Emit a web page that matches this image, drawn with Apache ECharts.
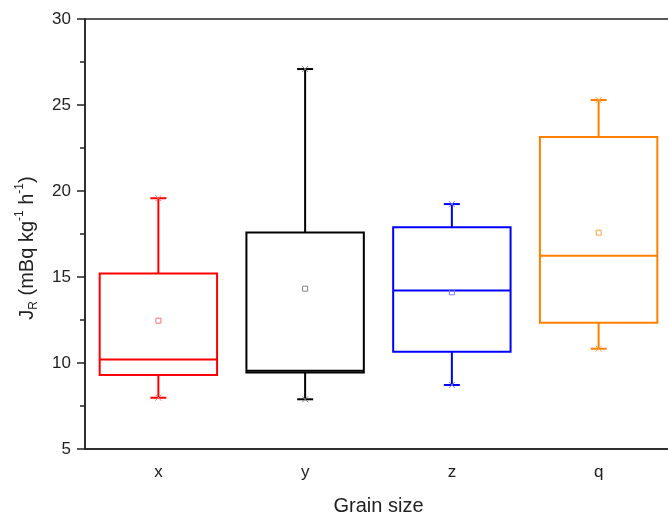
<!DOCTYPE html>
<html>
<head>
<meta charset="utf-8">
<script src="https://cdn.jsdelivr.net/npm/echarts@6/dist/echarts.min.js"></script>
<style>
  html, body { margin: 0; padding: 0; background: #fff; }
  #chart { width: 668px; height: 513px; }
</style>
</head>
<body>
<div id="chart"></div>
<script>
// Grain-size groups and their box statistics
const categories = ['x', 'y', 'z', 'q'];
const whiskerLow = [7.98, 7.89, 8.72, 10.83];
const q1 = [9.30, 9.45, 10.66, 12.34];
const median = [10.21, 9.55, 14.22, 16.24];
const q3 = [15.21, 17.58, 17.89, 23.14];
const whiskerHigh = [19.58, 27.09, 19.24, 25.29];
const mean = [12.46, 14.32, 14.11, 17.58];
const yTicks = [5, 10, 15, 20, 25, 30];

const boxColors = ['#ff0000', '#000000', '#0000ff', '#ff8000'];
const meanColors = ['#ff7070', '#808080', '#7a7aff', '#ffa040'];

const rows = categories.map((c, i) => [i, whiskerLow[i], q1[i], median[i], q3[i], whiskerHigh[i], mean[i]]);

function renderBox(params, api) {
  const i = api.value(0);
  const color = boxColors[i];
  const light = meanColors[i];
  const band = api.size([1, 0])[0];
  const half = band * 0.4;
  const cap = 8;
  const pLow = api.coord([i, api.value(1)]);
  const pQ1 = api.coord([i, api.value(2)]);
  const pMed = api.coord([i, api.value(3)]);
  const pQ3 = api.coord([i, api.value(4)]);
  const pHigh = api.coord([i, api.value(5)]);
  const pMean = api.coord([i, api.value(6)]);
  const cx = pQ1[0];
  const stroke = { stroke: color, lineWidth: 2, fill: null };
  const line = (x1, y1, x2, y2, style) => ({
    type: 'line', shape: { x1, y1, x2, y2 }, style: style || stroke
  });
  const star = (y) => ({
    type: 'group',
    children: [
      line(cx - 3, y - 3, cx + 3, y + 3, { stroke: light, lineWidth: 1 }),
      line(cx - 3, y + 3, cx + 3, y - 3, { stroke: light, lineWidth: 1 })
    ]
  });
  return {
    type: 'group',
    children: [
      line(cx, pQ3[1], cx, pHigh[1]),
      line(cx, pQ1[1], cx, pLow[1]),
      line(cx - cap, pHigh[1], cx + cap, pHigh[1]),
      line(cx - cap, pLow[1], cx + cap, pLow[1]),
      star(pHigh[1]),
      star(pLow[1]),
      {
        type: 'rect',
        shape: { x: cx - half, y: pQ3[1], width: half * 2, height: pQ1[1] - pQ3[1] },
        style: stroke
      },
      line(cx - half, pMed[1], cx + half, pMed[1]),
      {
        type: 'rect',
        shape: { x: pMean[0] - 2.5, y: pMean[1] - 2.5, width: 5, height: 5 },
        style: { stroke: light, lineWidth: 1, fill: null }
      }
    ]
  };
}

const font = '"Liberation Sans", Arial, sans-serif';
const chart = echarts.init(document.getElementById('chart'), null, { renderer: 'canvas' });
chart.setOption({
  backgroundColor: '#ffffff',
  animation: false,
  grid: {
    left: 85, top: 19, width: 587, height: 430,
    outerBoundsMode: 'none',
    containLabel: false,
    show: true, borderColor: '#222', borderWidth: 1.5, backgroundColor: 'transparent'
  },
  xAxis: {
    type: 'category',
    data: categories,
    boundaryGap: true,
    name: 'Grain size',
    nameLocation: 'middle',
    nameGap: 47,
    nameTextStyle: { fontSize: 20, color: '#222', fontFamily: font },
    axisLine: { lineStyle: { color: '#222', width: 1.5 } },
    axisTick: { alignWithLabel: true, length: 8, lineStyle: { color: '#222', width: 1.5 } },
    axisLabel: { fontSize: 17, color: '#222', margin: 15, fontFamily: font },
    splitLine: { show: false }
  },
  yAxis: {
    type: 'value',
    min: yTicks[0],
    max: yTicks[yTicks.length - 1],
    interval: 5,
    name: '{t|J}{sub|R}{t| (mBq kg}{sup|-1}{t| h}{sup|-1}{end|)}',
    nameLocation: 'middle',
    nameRotate: 90,
    nameGap: 45,
    nameTextStyle: {
      color: '#222',
      fontFamily: font,
      rich: {
        t: { fontSize: 20, color: '#222', fontFamily: font, lineHeight: 26, verticalAlign: 'middle' },
        end: { fontSize: 20, color: '#222', fontFamily: font, lineHeight: 26, verticalAlign: 'middle', padding: [0, 28, 0, 0] },
        sub: { fontSize: 12, color: '#222', fontFamily: font, lineHeight: 26, verticalAlign: 'bottom' },
        sup: { fontSize: 12, color: '#222', fontFamily: font, lineHeight: 26, verticalAlign: 'top' }
      }
    },
    axisLine: { show: true, lineStyle: { color: '#222', width: 1.5 } },
    axisTick: { show: true, length: 8, lineStyle: { color: '#222', width: 1.5 } },
    minorTick: { show: true, splitNumber: 2, length: 5, lineStyle: { color: '#222', width: 1.5 } },
    axisLabel: { fontSize: 17, color: '#222', margin: 14, fontFamily: font },
    splitLine: { show: false }
  },
  series: [{
    type: 'custom',
    renderItem: renderBox,
    data: rows,
    encode: { x: 0, y: [1, 2, 3, 4, 5, 6] },
    clip: false
  }]
});
</script>
</body>
</html>
